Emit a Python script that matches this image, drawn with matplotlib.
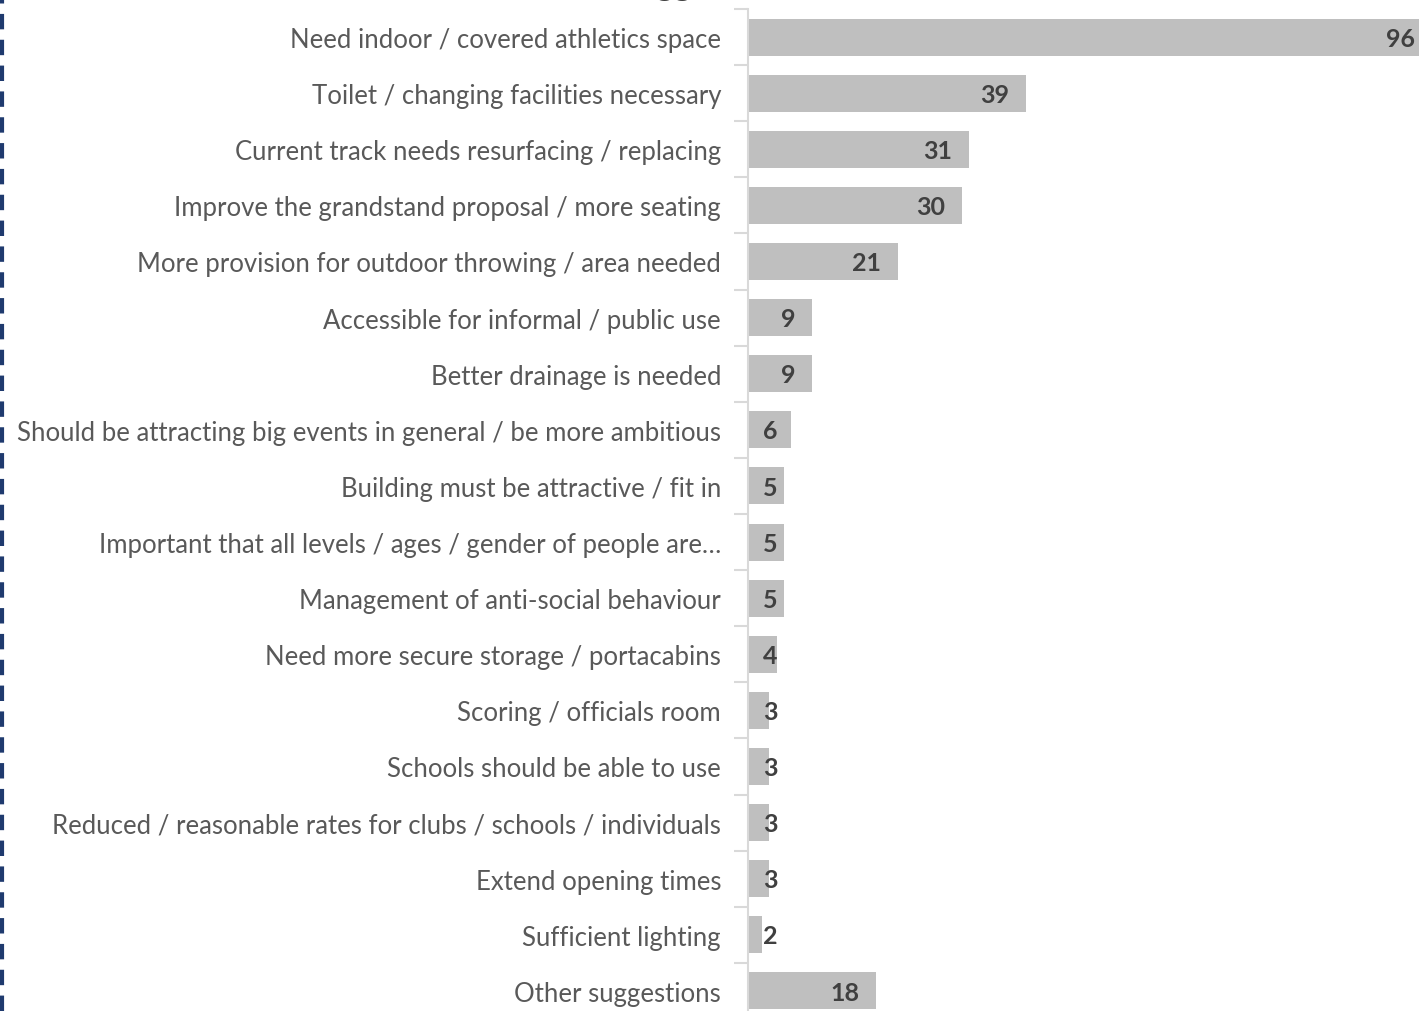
import matplotlib.pyplot as plt
from matplotlib.lines import Line2D
import numpy as np

plt.rcParams['font.family'] = ['Lato', 'DejaVu Sans']

categories = [
    "Need indoor / covered athletics space",
    "Toilet / changing facilities necessary",
    "Current track needs resurfacing / replacing",
    "Improve the grandstand proposal / more seating",
    "More provision for outdoor throwing / area needed",
    "Accessible for informal / public use",
    "Better drainage is needed",
    "Should be attracting big events in general / be more ambitious",
    "Building must be attractive / fit in",
    "Important that all levels / ages / gender of people are\u2026",
    "Management of anti-social behaviour",
    "Need more secure storage / portacabins",
    "Scoring / officials room",
    "Schools should be able to use",
    "Reduced / reasonable rates for clubs / schools / individuals",
    "Extend opening times",
    "Sufficient lighting",
    "Other suggestions",
]
counts = [96, 39, 31, 30, 21, 9, 9, 6, 5, 5, 5, 4, 3, 3, 3, 3, 2, 18]

fig = plt.figure(figsize=(14.19, 10.12), dpi=100)
W, H = 1419, 1012
# axes: spine at x=748, 7.13 px per unit; rows 56.1 px from y=10
ax = fig.add_axes([748 / W, (H - 1020) / H, 7.13 * 96 / W, 1010 / H])

y = np.arange(len(categories))
ax.barh(y, counts, height=0.66, color='#BFBFBF')
ax.set_xlim(0, 96)
ax.set_ylim(len(categories) - 0.5, -0.5)

for yi, v in zip(y, counts):
    s = str(v)
    xr = max(v - 2.4, 2.1 + 2.03 * len(s))
    ax.text(xr, yi + 0.02, s, ha='right', va='center', fontsize=18,
            fontweight='bold', color='#404040')

ax.set_yticks(y)
ax.set_yticklabels(categories, fontsize=18.5, color='#595959')
ax.set_yticks(np.arange(len(categories) + 1) - 0.5, minor=True)
ax.tick_params(axis='y', which='major', length=0, pad=19.4)
ax.tick_params(axis='y', which='minor', length=10, color='#D9D9D9', width=1.5)
ax.set_xticks([])
for side in ['top', 'right', 'bottom']:
    ax.spines[side].set_visible(False)
ax.spines['left'].set_color('#D9D9D9')
ax.spines['left'].set_linewidth(1.5)

# chart title, mostly above the top edge as in the reference
fig.text(709 / W, 1.0 + 4 / H, "Suggestions", ha='center', va='baseline',
         fontsize=24, fontweight='bold', color='#404040')

# dashed frame on the left edge
fig.add_artist(Line2D([1.5 / W, 1.5 / W], [0, 1], transform=fig.transFigure,
                      color='#1F3A6E', linewidth=3, linestyle=(0, (3.7, 2.5))))

fig.savefig('out.png', dpi=100)
